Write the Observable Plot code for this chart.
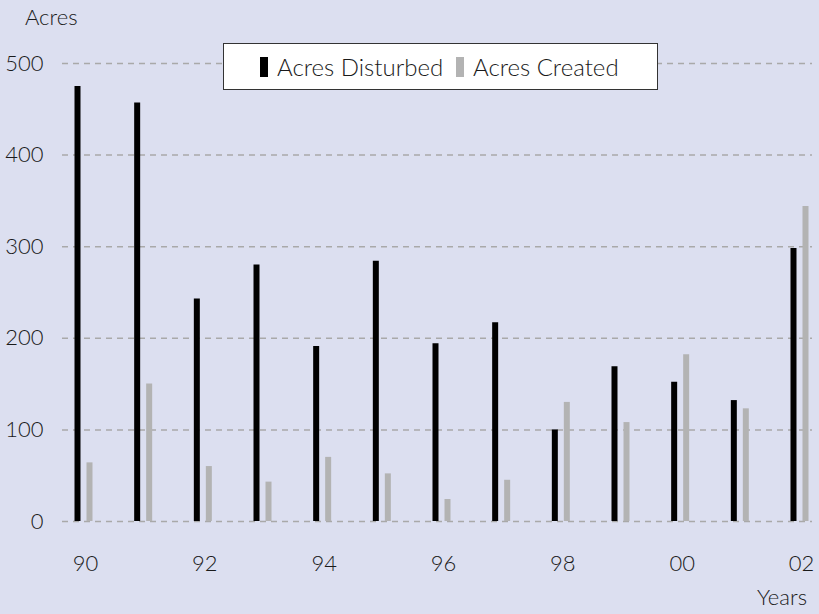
<!DOCTYPE html>
<html>
<head>
<meta charset="utf-8">
<script src="https://cdn.jsdelivr.net/npm/d3@7"></script>
<script src="https://cdn.jsdelivr.net/npm/@observablehq/plot@0.6"></script>
<style>
  html, body { margin: 0; padding: 0; background: #dcdff0; }
  #wrap { position: relative; width: 819px; height: 614px; background: #dcdff0; font-family: Lato, "Open Sans", sans-serif; color: #1a1a1a; overflow: hidden; }
  #wrap svg { position: absolute; left: 0; top: 0; background: transparent; }
  .lbl { position: absolute; font-size: 22px; line-height: 1; font-weight: 300; color: #1a1a1a; white-space: nowrap; }
  #legend { position: absolute; left: 223px; top: 43px; width: 433px; height: 45px; background: #fff; border: 1.5px solid #333; }
  #legend .sw { position: absolute; top: 13px; width: 8px; height: 20px; }
  #legend .tx { position: absolute; top: 11px; font-size: 24px; line-height: 1; font-weight: 300; color: #1a1a1a; white-space: nowrap; }
</style>
</head>
<body>
<div id="wrap"></div>
<script>
const years = [1990, 1991, 1992, 1993, 1994, 1995, 1996, 1997, 1998, 1999, 2000, 2001, 2002];
const acresDisturbed = [475, 457, 243, 280, 191, 284, 194, 217, 100, 169, 152, 132, 298];
const acresCreated = [64, 150, 60, 43, 70, 52, 24, 45, 130, 108, 182, 123, 344];
const seriesNames = ["Acres Disturbed", "Acres Created"];
const seriesColors = ["#000000", "#b3b3b3"];
const yTicks = [0, 100, 200, 300, 400, 500];
const xTicks = [1990, 1992, 1994, 1996, 1998, 2000, 2002];
const yTitle = "Acres";
const xTitle = "Years";

const disturbedData = years.map((y, i) => ({year: y, value: acresDisturbed[i]}));
const createdData = years.map((y, i) => ({year: y, value: acresCreated[i]}));

const chart = Plot.plot({
  width: 819,
  height: 614,
  marginLeft: 62,
  marginRight: 7,
  marginTop: 63,
  marginBottom: 93,
  style: {background: "transparent", fontFamily: "Lato, 'Open Sans', sans-serif", fontSize: "22px", color: "#1a1a1a", fontWeight: 300},
  x: {type: "linear", domain: [1989.648, 2002.218]},
  y: {domain: [0, 500]},
  marks: [
    Plot.ruleY(yTicks, {stroke: "#a9a9a9", strokeWidth: 1.5, strokeDasharray: "6,5"}),
    Plot.ruleX(disturbedData, {x: "year", y1: 0, y2: "value", stroke: seriesColors[0], strokeWidth: 6, dx: -6}),
    Plot.ruleX(createdData, {x: "year", y1: 0, y2: "value", stroke: seriesColors[1], strokeWidth: 6, dx: 6}),
    Plot.axisY({ticks: yTicks, tickSize: 0, tickPadding: 19, fontSize: 22, label: null}),
    Plot.axisX({ticks: xTicks, tickFormat: d => String(d % 100).padStart(2, "0"), tickSize: 0, tickPadding: 34, dx: 2, fontSize: 22, label: null})
  ]
});

const wrap = document.getElementById("wrap");
wrap.appendChild(chart);

const yl = document.createElement("div");
yl.className = "lbl"; yl.textContent = yTitle;
yl.style.left = "25px"; yl.style.top = "6px";
wrap.appendChild(yl);

const xl = document.createElement("div");
xl.className = "lbl"; xl.textContent = xTitle;
xl.style.right = "12px"; xl.style.top = "586px";
wrap.appendChild(xl);

const legend = document.createElement("div");
legend.id = "legend";
const swLeft = [36, 232];
const txLeft = [53, 249];
seriesNames.forEach((name, i) => {
  const sw = document.createElement("div");
  sw.className = "sw"; sw.style.left = swLeft[i] + "px"; sw.style.background = seriesColors[i];
  legend.appendChild(sw);
  const tx = document.createElement("div");
  tx.className = "tx"; tx.style.left = txLeft[i] + "px"; tx.textContent = name;
  legend.appendChild(tx);
});
wrap.appendChild(legend);
</script>
</body>
</html>
